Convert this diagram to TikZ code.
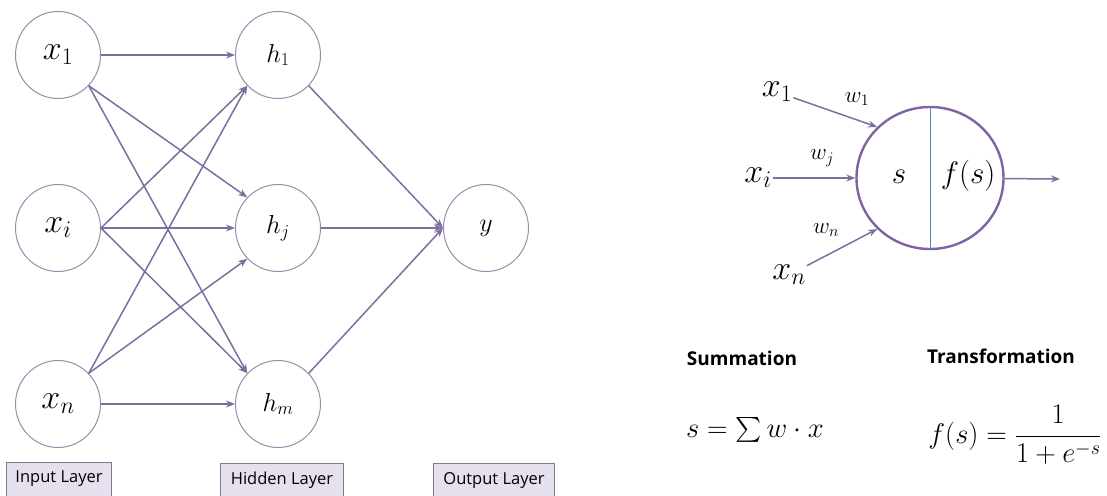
\documentclass[tikz,border=0pt]{standalone}
\usepackage{fix-cm}
\usepackage{amsmath}
\usepackage{fontspec}
\setmainfont{Open Sans}
\usetikzlibrary{arrows.meta, positioning, shapes.geometric}
\definecolor{edgepurple}{RGB}{125,110,160}
\definecolor{ringgray}{RGB}{150,140,172}
\definecolor{lavenderbox}{RGB}{230,224,238}
\definecolor{boxline}{RGB}{125,125,145}
\definecolor{cellpurple}{RGB}{128,100,162}
\definecolor{splitblue}{RGB}{79,129,189}

\begin{document}
\begin{tikzpicture}[
  x=1pt, y=-1pt, on grid,
  neuron/.style={ellipse, draw=ringgray, line width=1pt, minimum width=85pt,
    minimum height=87pt, inner sep=0pt, font=\fontsize{34}{34}\selectfont},
  hid/.style={neuron, font=\fontsize{26}{26}\selectfont},
  layerbox/.style={rectangle, draw=boxline, fill=lavenderbox, line width=0.9pt,
    minimum height=34pt, inner sep=3pt, font=\fontsize{16.5}{16.5}\selectfont},
  cell/.style={ellipse, draw=cellpurple, line width=2.4pt, minimum width=147pt,
    minimum height=142pt, inner sep=0pt},
  inlab/.style={inner sep=1pt, font=\fontsize{34}{34}\selectfont},
  celllab/.style={inner sep=1pt, font=\fontsize{31}{31}\selectfont},
  wlab/.style={inner sep=1pt, font=\fontsize{23}{23}\selectfont},
  head/.style={inner sep=0pt, font=\fontsize{19}{19}\selectfont\bfseries},
  formula/.style={inner sep=0pt, font=\fontsize{28.5}{28.5}\selectfont},
  arr/.style={-{Stealth[length=9pt, width=7pt]}, edgepurple, line width=1.5pt}
]
\useasboundingbox (0,0) rectangle (1107,495);

% network
\node[neuron] (x1) at (58,55) {$x_1$};
\node[neuron, below=173pt of x1] (xi) {$x_i$};
\node[neuron, below=176pt of xi] (xn) {$x_n$};
\node[hid, right=220pt of x1] (h1) {$h_1$};
\node[hid, right=220pt of xi] (hj) {$h_j$};
\node[hid, right=220pt of xn] (hm) {$h_m$};
\node[hid, right=208pt of hj] (y) {$y$};

\draw[arr] (x1) -- (h1);
\draw[arr] (x1.-45) -- (hj.135);
\draw[arr] (x1.-45) -- (hm.135);
\draw[arr] (xi.east) -- (h1.-135);
\draw[arr] (xi) -- (hj);
\draw[arr] (xi.east) -- (hm.135);
\draw[arr] (xn.45) -- (h1.-135);
\draw[arr] (xn.45) -- (hj.-135);
\draw[arr] (xn) -- (hm);
\draw[arr] (h1.-45) -- (y.west);
\draw[arr] (hj) -- (y);
\draw[arr] (hm.45) -- (y.west);

\node[layerbox, minimum width=105pt] (inputlayer) at (59,479) {Input Layer};
\node[layerbox, minimum width=123pt] (hiddenlayer) at (282,480) {Hidden Layer};
\node[layerbox, minimum width=121pt] (outputlayer) at (494,480) {Output Layer};

% single neuron
\node[cell] (sum) at (930,178) {};
\draw[splitblue, line width=0.9pt] (sum.north) -- (sum.south);
\node[celllab] (slab) at (899,177) {$s$};
\node[celllab] (fslab) at (968,176) {$f(s)$};

\node[inlab] (in1) at (777,92) {$x_1$};
\node[inlab] (ini) at (758,178) {$x_i$};
\node[inlab] (inn) at (789,275) {$x_n$};
\node[wlab] (w1) at (857,99) {$w_1$};
\node[wlab] (wj) at (822,158) {$w_j$};
\node[wlab] (wn) at (826,230) {$w_n$};
\coordinate (fout) at (1060,179);

\draw[arr] (in1) -- (sum.136);
\draw[arr] (ini) -- (sum.west);
\draw[arr] (inn) -- (sum.-136);
\draw[arr] (sum) -- (fout);

% formulas
\node[head] (sumhead) at (742,358) {Summation};
\node[head] (transhead) at (1001,356) {Transformation};
\node[formula] (sumeq) at (755,430) {$s=\sum w\cdot x$};
\node[formula] (transeq) at (1015,435) {$f(s)=\dfrac{1}{1+e^{-s}}$};

\end{tikzpicture}
\end{document}
